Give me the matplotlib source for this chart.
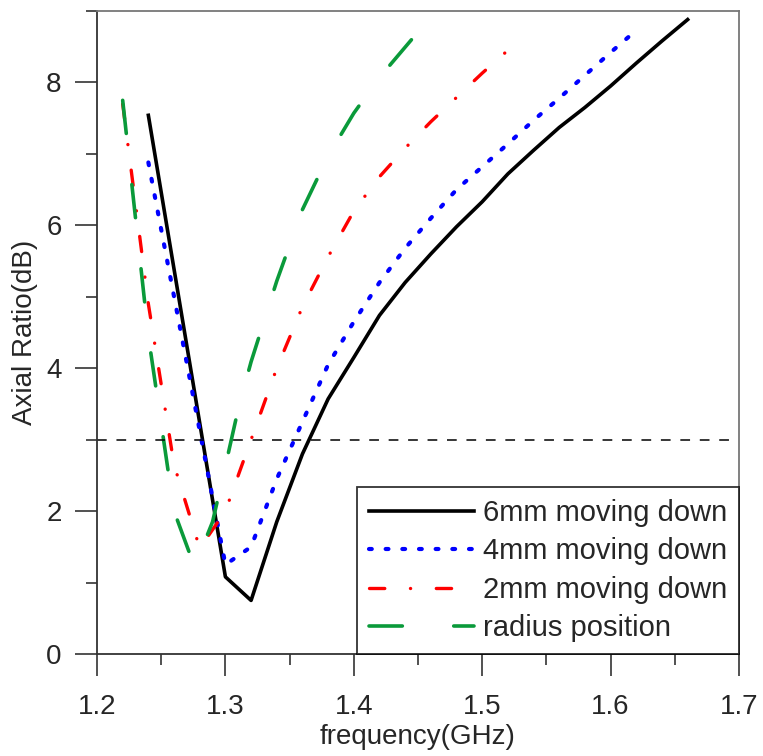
import numpy as np
import matplotlib
matplotlib.use("Agg")
import matplotlib.pyplot as plt
from matplotlib.ticker import MultipleLocator

plt.rcParams['font.family'] = ['Liberation Sans', 'DejaVu Sans']
plt.rcParams['lines.scale_dashes'] = False

# 6mm moving down
f_6mm = [1.24, 1.30, 1.32, 1.34, 1.36, 1.38, 1.40, 1.42, 1.44, 1.46, 1.48,
         1.50, 1.52, 1.54, 1.56, 1.58, 1.60, 1.62, 1.64, 1.66]
ar_6mm = [7.54, 1.08, 0.75, 1.85, 2.80, 3.57, 4.15, 4.74, 5.20, 5.60, 5.98,
          6.33, 6.72, 7.05, 7.37, 7.65, 7.95, 8.27, 8.58, 8.88]

# 4mm moving down
f_4mm = [1.24, 1.30, 1.32, 1.34, 1.36, 1.38, 1.40, 1.42, 1.44, 1.46, 1.48,
         1.50, 1.52, 1.54, 1.56, 1.58, 1.60, 1.62]
ar_4mm = [6.88, 1.25, 1.50, 2.45, 3.25, 4.05, 4.65, 5.20, 5.68, 6.10, 6.50,
          6.82, 7.14, 7.47, 7.78, 8.10, 8.42, 8.73]

# 2mm moving down
f_2mm = [1.22, 1.24, 1.26, 1.28, 1.30, 1.32, 1.34, 1.36, 1.38, 1.40, 1.42,
         1.44, 1.46, 1.48, 1.50, 1.52, 1.527]
ar_2mm = [7.70, 4.90, 2.65, 1.48, 2.00, 3.00, 4.00, 4.86, 5.56, 6.20, 6.68,
          7.08, 7.45, 7.79, 8.13, 8.45, 8.55]

# radius position
f_rad = [1.22, 1.24, 1.26, 1.276, 1.29, 1.30, 1.31, 1.32, 1.34, 1.36, 1.38,
         1.40, 1.42, 1.445]
ar_rad = [7.75, 4.45, 2.00, 1.22, 1.85, 2.63, 3.43, 4.09, 5.22, 6.22, 6.97,
          7.57, 8.07, 8.60]

labels = ["6mm moving down", "4mm moving down", "2mm moving down", "radius position"]
ar_limit = 3.0

txt = '#262626'

fig = plt.figure(figsize=(7.63, 7.56), dpi=100)
ax = fig.add_axes([97/763, 1 - 654/756, 642/763, 643/756])

ax.plot(f_6mm, ar_6mm, color='black', lw=2.6, solid_joinstyle='round', label=labels[0])
ax.plot(f_4mm, ar_4mm, color='#0000ff', lw=3.0, linestyle=(0, (2.0, 10.0)),
        dash_capstyle='round', label=labels[1])
ax.plot(f_2mm, ar_2mm, color='#ff0000', lw=2.4, linestyle=(0, (11, 18.5, 0.1, 18.5)),
        dash_capstyle='round', label=labels[2])
ax.plot(f_rad, ar_rad, color='#0a9a3a', lw=2.6, linestyle=(0, (24, 37)),
        dash_capstyle='round', label=labels[3])

ax.hlines(ar_limit, 1.2, 1.692, colors='black', lw=1.1, linestyles=(0, (7, 7)))

ax.set_xlim(1.2, 1.7)
ax.set_ylim(0, 9)
ax.xaxis.set_major_locator(MultipleLocator(0.1))
ax.xaxis.set_minor_locator(MultipleLocator(0.05))
ax.yaxis.set_major_locator(MultipleLocator(2))
ax.yaxis.set_minor_locator(MultipleLocator(1))
ax.set_xticks(np.arange(1.2, 1.71, 0.1))
ax.set_xticklabels(["1.2", "1.3", "1.4", "1.5", "1.6", "1.7"])

ax.tick_params(which='major', direction='out', length=15.5, width=1.2,
               labelsize=20, colors='#333333', labelcolor=txt)
ax.tick_params(axis='x', which='major', pad=13)
ax.tick_params(axis='y', which='major', pad=10)
ax.tick_params(which='minor', direction='out', length=8, width=1.2, colors='#333333')
for s in ax.spines.values():
    s.set_linewidth(1.3)
    s.set_color('#333333')
ax.spines['right'].set_color('#777777')
ax.spines['top'].set_color('#777777')

ax.set_xlabel("frequency(GHz)", fontsize=20, color=txt, labelpad=3)
ax.set_ylabel("Axial Ratio(dB)", fontsize=20, color=txt, labelpad=6)

leg = ax.legend(loc='lower right', fontsize=21, frameon=True, fancybox=False,
                borderaxespad=0, handlelength=3.6, handletextpad=0.32,
                labelspacing=0.36, borderpad=0.4)
leg.get_frame().set_edgecolor('black')
leg.get_frame().set_linewidth(1.3)
for t in leg.get_texts():
    t.set_color(txt)

fig.savefig("out.png", dpi=100, facecolor='white')
